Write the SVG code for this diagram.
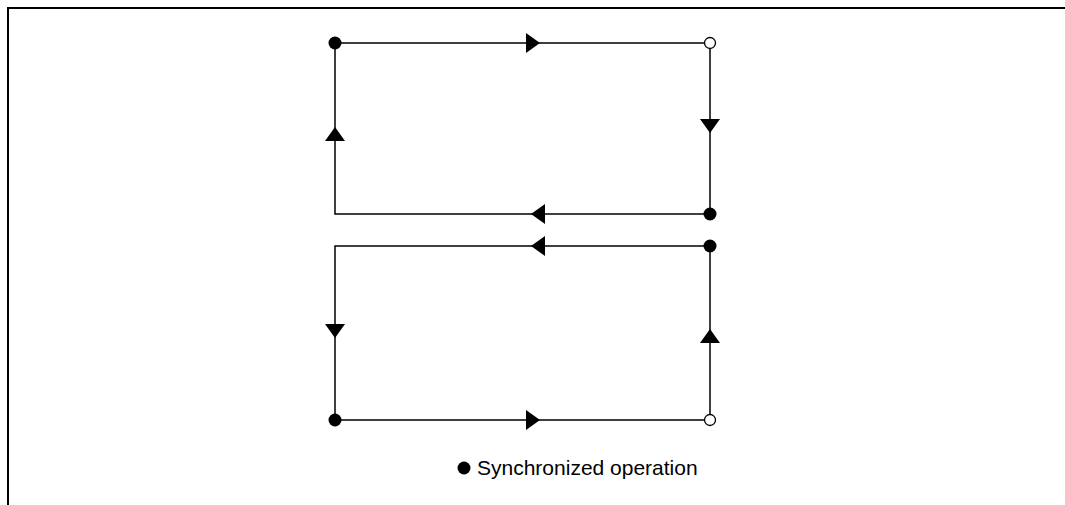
<svg xmlns="http://www.w3.org/2000/svg" width="1065" height="505" viewBox="0 0 1065 505">
<style>
.ln{stroke:#000;stroke-width:1.5;fill:none}
.frame{stroke:#000;stroke-width:2;fill:none}
.ah{fill:#000}
.dot{fill:#000}
.open{fill:#fff;stroke:#000;stroke-width:1.3}
.lbl{font-family:"Liberation Sans",Arial,sans-serif;font-size:21px;fill:#000}
</style>
<rect width="1065" height="505" fill="#fff"/>
<path class="frame" d="M8,505 V8 H1065"/>
<g id="connectors">
<path class="ln" d="M335,43 H710 V214 H335 Z"/>
<path class="ln" d="M710,246 H335 V420 H710 Z"/>
<polygon class="ah" points="526,33 540,43 526,53"/>
<polygon class="ah" points="700,119 720,119 710,133"/>
<polygon class="ah" points="545,204 531,214 545,224"/>
<polygon class="ah" points="325,141 345,141 335,127"/>
<polygon class="ah" points="545,236 531,246 545,256"/>
<polygon class="ah" points="325,324 345,324 335,338"/>
<polygon class="ah" points="526,410 540,420 526,430"/>
<polygon class="ah" points="700,343 720,343 710,329"/>
</g>
<g id="n1"><circle class="dot" cx="335" cy="43" r="6.5"/></g>
<g id="n2"><circle class="open" cx="710" cy="43" r="5.5"/></g>
<g id="n3"><circle class="dot" cx="710" cy="214" r="6.5"/></g>
<g id="n4"><circle class="dot" cx="710" cy="246" r="6.5"/></g>
<g id="n5"><circle class="dot" cx="335" cy="420" r="6.5"/></g>
<g id="n6"><circle class="open" cx="710" cy="420" r="5.5"/></g>
<g id="legend">
<circle class="dot" cx="464" cy="468" r="6.5"/>
<text class="lbl" x="477" y="475">Synchronized operation</text>
</g>
</svg>
